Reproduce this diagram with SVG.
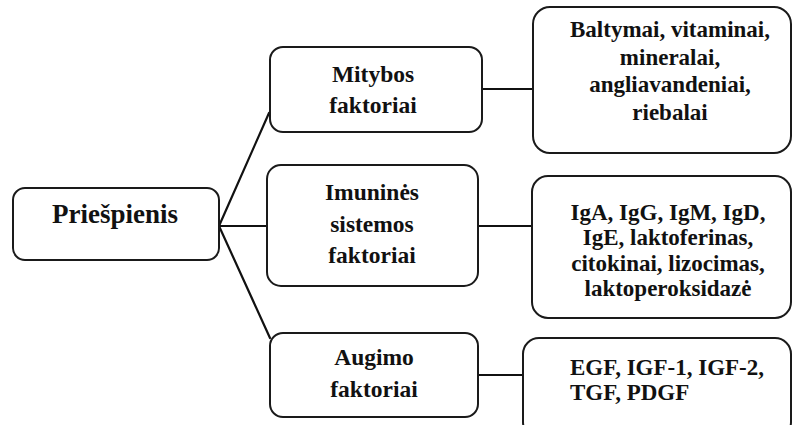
<svg xmlns="http://www.w3.org/2000/svg" width="793" height="425" viewBox="0 0 793 425">
  <style>
    .box { fill: #ffffff; stroke: #1a1a1a; stroke-width: 2; }
    .link { stroke: #111111; stroke-width: 2.2; fill: none; stroke-linecap: round; }
    .lbl { font-family: 'Liberation Serif', 'DejaVu Serif', serif; font-weight: 700; fill: #111111; }
    .root { font-size: 27px; text-anchor: middle; }
    .mid { font-size: 23.5px; text-anchor: middle; }
    .leaf { font-size: 23px; text-anchor: middle; }
    .leafl { font-size: 23px; }
  </style>
  <rect width="793" height="425" fill="#ffffff"/>

  <g id="connectors">
    <line class="link" x1="219" y1="226" x2="269" y2="113"/>
    <line class="link" x1="219" y1="226" x2="267" y2="226"/>
    <line class="link" x1="219" y1="226" x2="270" y2="338"/>
    <line class="link" x1="482" y1="89" x2="533" y2="89"/>
    <line class="link" x1="478" y1="226" x2="532" y2="226"/>
    <line class="link" x1="478" y1="375" x2="523" y2="375"/>
  </g>

  <g id="priespienis">
    <rect class="box" x="13" y="188" width="206" height="72" rx="12"/>
    <text class="lbl root" x="115" y="223">Priešpienis</text>
  </g>

  <g id="mitybos">
    <rect class="box" x="270" y="47" width="212" height="85" rx="13"/>
    <text class="lbl mid" x="373" y="82">Mitybos</text>
    <text class="lbl mid" x="373" y="113">faktoriai</text>
  </g>

  <g id="imunines">
    <rect class="box" x="267" y="165" width="211" height="121" rx="14"/>
    <text class="lbl mid" x="372" y="200">Imuninės</text>
    <text class="lbl mid" x="372" y="232">sistemos</text>
    <text class="lbl mid" x="372" y="263">faktoriai</text>
  </g>

  <g id="augimo">
    <rect class="box" x="270" y="333" width="208" height="84" rx="13"/>
    <text class="lbl mid" x="374" y="365">Augimo</text>
    <text class="lbl mid" x="374" y="397">faktoriai</text>
  </g>

  <g id="mitybos-sudetis">
    <rect class="box" x="533" y="7" width="258" height="146" rx="17"/>
    <text class="lbl leaf" x="670" y="37">Baltymai, vitaminai,</text>
    <text class="lbl leaf" x="670" y="65">mineralai,</text>
    <text class="lbl leaf" x="670" y="92">angliavandeniai,</text>
    <text class="lbl leaf" x="670" y="120">riebalai</text>
  </g>

  <g id="imunines-sudetis">
    <rect class="box" x="532" y="176" width="259" height="142" rx="16"/>
    <text class="lbl leaf" x="668" y="220">IgA, IgG, IgM, IgD,</text>
    <text class="lbl leaf" x="668" y="245">IgE, laktoferinas,</text>
    <text class="lbl leaf" x="668" y="271">citokinai, lizocimas,</text>
    <text class="lbl leaf" x="668" y="296">laktoperoksidazė</text>
  </g>

  <g id="augimo-sudetis">
    <rect class="box" x="523" y="338" width="268" height="100" rx="16"/>
    <text class="lbl leafl" x="570" y="375">EGF, IGF-1, IGF-2,</text>
    <text class="lbl leafl" x="570" y="400">TGF, PDGF</text>
  </g>
</svg>
